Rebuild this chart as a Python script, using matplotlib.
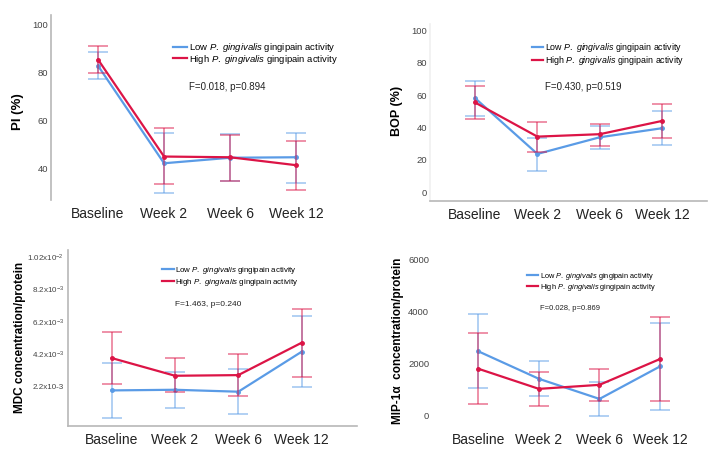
import numpy as np
import matplotlib
matplotlib.use('Agg')
import matplotlib.pyplot as plt

plt.rcParams['font.family'] = ['Liberation Sans', 'DejaVu Sans']
plt.rcParams['mathtext.fontset'] = 'custom'
plt.rcParams['mathtext.rm'] = 'Liberation Sans'
plt.rcParams['mathtext.it'] = 'Liberation Sans:italic'
plt.rcParams['mathtext.bf'] = 'Liberation Sans:bold'

# Data (means with lower / upper error limits)
weeks = ['Baseline', 'Week 2', 'Week 6', 'Week 12']

pi_low = [82.6, 42.0, 44.3, 44.5]
pi_low_lo = [77.0, 29.8, 34.5, 33.7]
pi_low_hi = [88.5, 54.6, 54.0, 54.6]
pi_high = [85.2, 44.8, 44.5, 41.2]
pi_high_lo = [79.8, 33.2, 34.8, 30.9]
pi_high_hi = [91.0, 56.8, 53.9, 51.2]

bop_low = [58.2, 23.7, 34.0, 39.6]
bop_low_lo = [47.4, 13.0, 26.6, 29.1]
bop_low_hi = [69.0, 33.8, 41.0, 50.3]
bop_high = [55.5, 34.4, 35.9, 44.1]
bop_high_lo = [45.2, 24.8, 28.9, 33.8]
bop_high_hi = [65.4, 43.7, 42.5, 54.5]

mdc_low = [1.93e-3, 1.97e-3, 1.85e-3, 4.33e-3]
mdc_low_lo = [0.23e-3, 0.85e-3, 0.46e-3, 2.12e-3]
mdc_low_hi = [3.65e-3, 3.07e-3, 3.24e-3, 6.55e-3]
mdc_high = [3.94e-3, 2.84e-3, 2.88e-3, 4.89e-3]
mdc_high_lo = [2.30e-3, 1.81e-3, 1.56e-3, 2.76e-3]
mdc_high_hi = [5.55e-3, 3.92e-3, 4.19e-3, 6.98e-3]

mip_low = [2477, 1419, 645, 1897]
mip_low_lo = [1058, 748, 0, 206]
mip_low_hi = [3923, 2103, 1290, 3574]
mip_high = [1806, 1032, 1187, 2181]
mip_high_lo = [439, 374, 568, 568]
mip_high_hi = [3187, 1690, 1794, 3794]

stats = ['F=0.018, p=0.894', 'F=0.430, p=0.519', 'F=1.463, p=0.240', 'F=0.028, p=0.869']
mdc_ticks = [2.2e-3, 4.2e-3, 6.2e-3, 8.2e-3, 10.2e-3]
mdc_ticklabels = ['2.2x10-3', r'4.2x10$^{-3}$', r'6.2x10$^{-3}$', r'8.2x10$^{-3}$', r'1.02x10$^{-2}$']

lab_low = r'Low $\it{P.\ gingivalis}$ gingipain activity'
lab_high = r'High $\it{P.\ gingivalis}$ gingipain activity'

BLUE = '#5a9be6'
RED = '#dc1446'
SPINE = '#b8b8b8'
W, H = 716, 455

fig = plt.figure(figsize=(W / 100, H / 100), dpi=100)


def add_ax(l, t, w, h):
    return fig.add_axes([l / W, 1 - (t + h) / H, w / W, h / H])


def draw(ax, low, low_lo, low_hi, high, high_lo, high_hi):
    x = np.arange(len(weeks))
    for m, lo, hi, c, lab in [(low, low_lo, low_hi, BLUE, lab_low),
                              (high, high_lo, high_hi, RED, lab_high)]:
        m = np.array(m)
        err = [m - np.array(lo), np.array(hi) - m]
        ax.errorbar(x, m, yerr=err, fmt='none', ecolor=c, alpha=0.55,
                    elinewidth=1.2, capsize=7, capthick=1.2)
        ax.plot(x, m, color=c, lw=1.6, label=lab)
        ax.plot(x, m, 'o', color=c, ms=2.5)
    ax.set_xticks(x)
    ax.set_xticklabels(weeks)
    ax.tick_params(length=0, labelsize=6.8, labelcolor='#444444')
    ax.tick_params(axis='x', labelsize=10, labelcolor='#222222', pad=5)
    for s in ax.spines.values():
        s.set_visible(False)
        s.set_color(SPINE)
        s.set_linewidth(1.2)
    ax.patch.set_alpha(0)


def legend(ax, x, y, fs, hl, sp=0.1):
    ax.legend(loc='upper left', bbox_to_anchor=(x / W, 1 - y / H),
              bbox_transform=fig.transFigure, frameon=False, fontsize=fs,
              handlelength=hl, handletextpad=0.2, borderpad=0,
              borderaxespad=0, labelspacing=sp)


def ftext(x, y, s, fs, rot=0, **kw):
    fig.text(x / W, 1 - y / H, s, fontsize=fs, rotation=rot, **kw)


# Panel 1: PI
ax1 = add_ax(51, 15, 294, 185)
draw(ax1, pi_low, pi_low_lo, pi_low_hi, pi_high, pi_high_lo, pi_high_hi)
ax1.set_xlim(-0.712, 3.74)
ax1.set_ylim(26.7, 103.75)
ax1.set_yticks([40, 60, 80, 100])
ax1.spines['left'].set_visible(True)
ax1.tick_params(axis='y', pad=2)
legend(ax1, 173, 41, 6.8, 1.5, sp=-0.15)
ftext(189, 87, stats[0], 7, va='center', color='#222222')
ftext(18, 112, 'PI (%)', 9.5, rot=90, ha='center', va='center', fontweight='bold')

# Panel 2: BOP
ax2 = add_ax(430, 24, 277, 176.7)
draw(ax2, bop_low, bop_low_lo, bop_low_hi, bop_high, bop_high_lo, bop_high_hi)
ax2.set_xlim(-0.722, 3.72)
ax2.set_ylim(-5.2, 104)
ax2.set_yticks([0, 20, 40, 60, 80, 100])
ax2.spines['bottom'].set_visible(True)
ax2.spines['left'].set_visible(True)
ax2.spines['left'].set_color('#f0f0f0')
ax2.tick_params(axis='y', pad=2)
legend(ax2, 532, 41, 6.4, 1.25, sp=0.0)
ftext(545, 87, stats[1], 7, va='center', color='#222222')
ftext(397, 111, 'BOP (%)', 9, rot=90, ha='center', va='center', fontweight='bold')

# Panel 3: MDC
ax3 = add_ax(68, 250, 289, 176)
draw(ax3, mdc_low, mdc_low_lo, mdc_low_hi, mdc_high, mdc_high_lo, mdc_high_hi)
ax3.set_xlim(-0.69, 3.875)
ax3.set_ylim(-0.28e-3, 10.65e-3)
ax3.set_yticks(mdc_ticks)
ax3.set_yticklabels(mdc_ticklabels, fontsize=5.8)
ax3.spines['left'].set_visible(True)
ax3.spines['bottom'].set_visible(True)
ax3.tick_params(axis='y', pad=3)
legend(ax3, 162, 265, 5.7, 1.5)
ftext(175, 305, stats[2], 6, va='center', color='#222222')
ftext(20, 337, 'MDC concentration/protein', 8.5, rot=90, ha='center', va='center',
      fontweight='bold')

# Panel 4: MIP-1a
ax4 = add_ax(432, 250, 275, 180)
draw(ax4, mip_low, mip_low_lo, mip_low_hi, mip_high, mip_high_lo, mip_high_hi)
ax4.set_xlim(-0.764, 3.774)
ax4.set_ylim(-550, 6373)
ax4.set_yticks([0, 2000, 4000, 6000])
ax4.tick_params(axis='y', pad=2)
ax4.tick_params(axis='x', pad=2)
legend(ax4, 527, 271, 5.3, 1.5, sp=0.0)
ftext(540, 309, stats[3], 5.5, va='center', color='#222222')
ftext(398, 341, 'MIP-1\u03b1  concentration/protein', 8.5, rot=90, ha='center',
      va='center', fontweight='bold')

fig.savefig('out.png', dpi=100)
